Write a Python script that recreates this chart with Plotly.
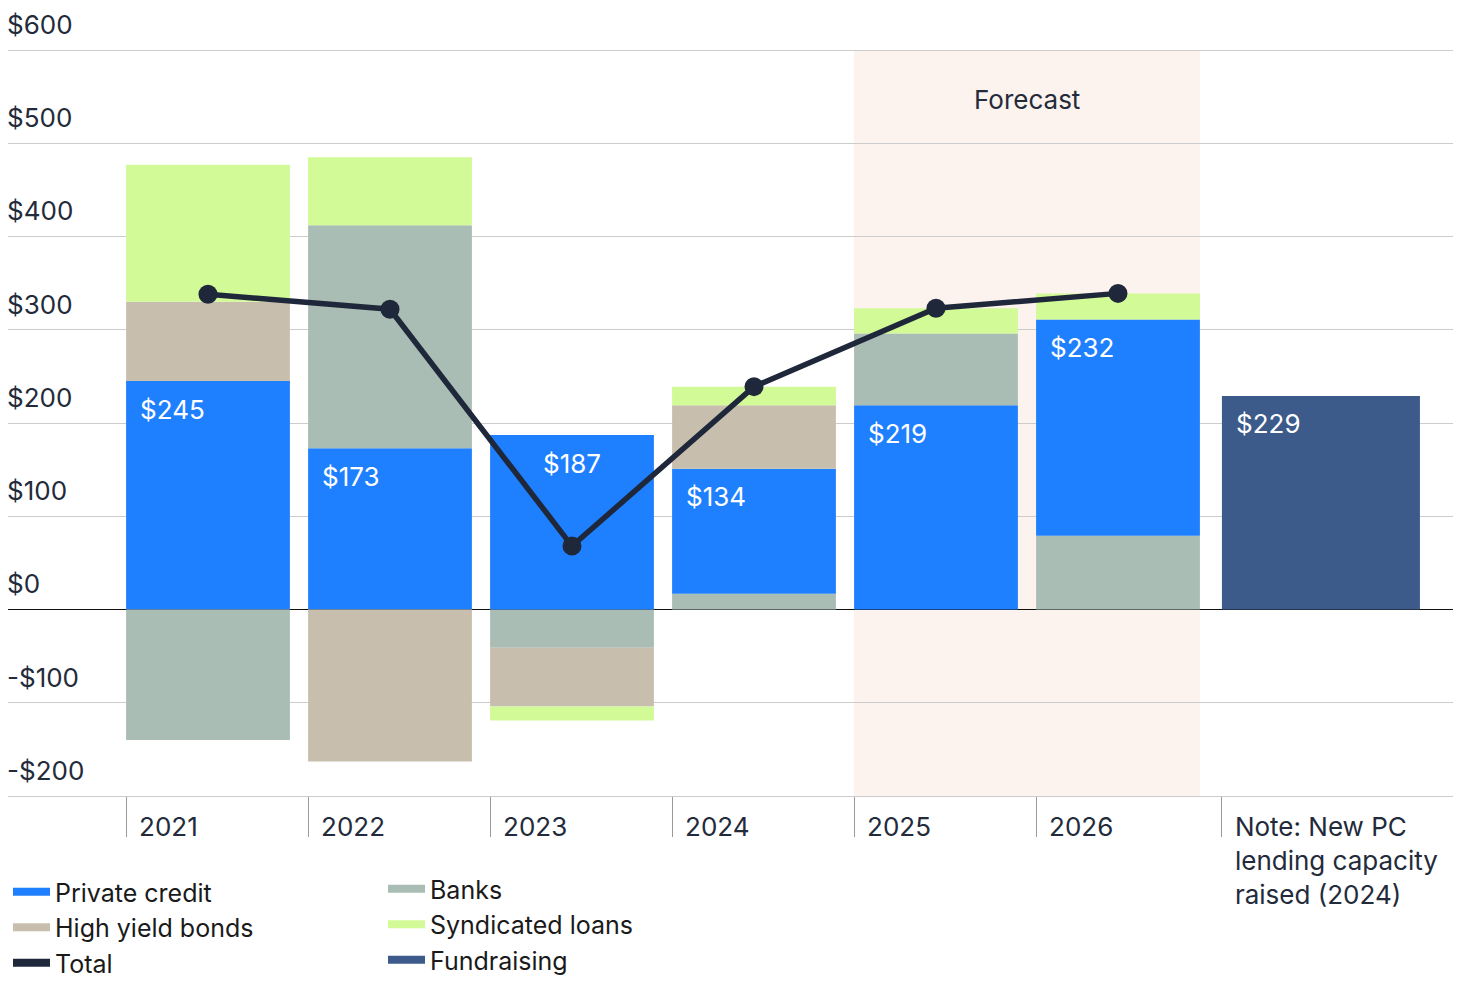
import plotly.graph_objects as go

# ---- data (USD bn) ----
years = ["2021", "2022", "2023", "2024", "2025", "2026"]
private_credit = [245, 173, 187, 134, 219, 232]
high_yield_bonds = [85, -163, -63, 68, None, None]
banks = [-140, 239, -41, 17, 77, 79]
syndicated_loans = [147, 73, -15, 20, 27, 28]
total = [338, 322, 68, 239, 323, 339]
fundraising = [229]
fundraising_label = "Note: New PC<br>lending capacity<br>raised (2024)"
forecast_years = ["2025", "2026"]
# years in which banks sit next to the zero line (below private credit)
banks_first_years = ["2023", "2024", "2026"]

y_ticks = [-200, -100, 0, 100, 200, 300, 400, 500, 600]
y_tick_text = ["-$200", "-$100", "$0", "$100", "$200", "$300", "$400", "$500", "$600"]

COLORS = {
    "Private credit": "#1F80FF",
    "High yield bonds": "#C8BEAD",
    "Banks": "#AABDB4",
    "Syndicated loans": "#D2FA97",
    "Fundraising": "#3C5A8A",
    "Total": "#1F283A",
}
FONT = "Inter"
TEXT = "#232B3B"

W, H = 1461, 991
OFF = 8  # the page body puts the figure 8px in from the top-left corner

BAR_W = 0.9
SLOT_PX = 182
FIRST_PX = 208 - OFF          # centre of the 2021 bar in figure pixels
x_years = list(range(len(years)))
x_fund = 6.115
w_fund = 1.088

# grid lines: $600 at 50px, -$200 at 796px on the page
Y600_PX = 50 - OFF
YM200_PX = 796 - OFF
PX_PER_UNIT = (YM200_PX - Y600_PX) / 800
Y_MAX = 600 + Y600_PX / PX_PER_UNIT   # plot area runs to the top of the figure


def split_banks():
    first = [v if y in banks_first_years else None for y, v in zip(years, banks)]
    rest = [None if y in banks_first_years else v for y, v in zip(years, banks)]
    return first, rest


def bar(name, values, legendgroup):
    return go.Bar(
        x=x_years, y=values, width=BAR_W, name=name,
        marker=dict(color=COLORS[legendgroup], line=dict(width=0)),
        legendgroup=legendgroup, showlegend=False, hoverinfo="y+name",
    )


def legend_entry(name, legend):
    return go.Scatter(
        x=[None], y=[None], mode="lines", name=name, legend=legend,
        line=dict(color=COLORS[name], width=8), legendgroup=name,
    )


fig = go.Figure()

banks_first, banks_rest = split_banks()
fig.add_trace(bar("Banks", banks_first, "Banks"))
fig.add_trace(bar("Private credit", private_credit, "Private credit"))
fig.add_trace(bar("High yield bonds", high_yield_bonds, "High yield bonds"))
fig.add_trace(bar("Banks", banks_rest, "Banks"))
fig.add_trace(bar("Syndicated loans", syndicated_loans, "Syndicated loans"))
fig.add_trace(go.Bar(
    x=[x_fund], y=fundraising, width=w_fund, name="Fundraising",
    marker=dict(color=COLORS["Fundraising"], line=dict(width=0)),
    showlegend=False,
))

fig.add_trace(go.Scatter(
    x=x_years, y=total, mode="lines+markers", name="Total", showlegend=False,
    line=dict(color=COLORS["Total"], width=5.5),
    marker=dict(color=COLORS["Total"], size=19),
))

# legend entries as thick line swatches, in two columns
for name in ["Private credit", "High yield bonds", "Total"]:
    fig.add_trace(legend_entry(name, "legend"))
for name in ["Banks", "Syndicated loans", "Fundraising"]:
    fig.add_trace(legend_entry(name, "legend2"))

# value labels at the top of the private credit segment
for i, y in enumerate(years):
    top = private_credit[i] + (banks[i] if y in banks_first_years and banks[i] > 0 else 0)
    centred = y == "2023"
    fig.add_annotation(
        x=i if centred else i - BAR_W / 2, y=top, xref="x", yref="y",
        text=f"${private_credit[i]}", showarrow=False,
        xanchor="center" if centred else "left", yanchor="middle",
        xshift=0 if centred else 12, yshift=-28,
        font=dict(family=FONT, size=26, color="white"),
    )
fig.add_annotation(
    x=x_fund - w_fund / 2, y=fundraising[0], xref="x", yref="y",
    text=f"${fundraising[0]}", showarrow=False, xanchor="left", yanchor="middle",
    xshift=12, yshift=-28, font=dict(family=FONT, size=26, color="white"),
)

# forecast band
f0 = years.index(forecast_years[0])
f1 = years.index(forecast_years[-1])
fig.add_shape(
    type="rect", xref="x", yref="y", x0=f0 - BAR_W / 2, x1=f1 + BAR_W / 2,
    y0=-200, y1=600, fillcolor="#FCF2EE", line=dict(width=0), layer="below",
)
fig.add_annotation(
    x=(f0 + f1) / 2, y=600, xref="x", yref="y", yshift=-49, text="Forecast",
    showarrow=False, font=dict(family=FONT, size=26, color=TEXT),
)

tick_pos = [i - BAR_W / 2 for i in x_years] + [x_fund - w_fund / 2]
fig.update_layout(
    width=W, height=H,
    margin=dict(l=0, r=0, t=0, b=H - YM200_PX, pad=0),
    barmode="relative",
    plot_bgcolor="white", paper_bgcolor="white",
    font=dict(family=FONT, size=26, color=TEXT),
    xaxis=dict(
        range=[-FIRST_PX / SLOT_PX, (W - FIRST_PX) / SLOT_PX],
        showgrid=False, zeroline=False,
        showline=True, linecolor="#CCCCCC", linewidth=1, automargin=False,
        tickmode="array", tickvals=tick_pos, ticktext=years + [fundraising_label],
        ticks="outside", ticklen=40, tickcolor="#9A9A9A", tickwidth=1,
        ticklabelposition="outside right", ticklabelshift=12, ticklabelstandoff=8,
        ticklabeloverflow="allow",
        tickfont=dict(family=FONT, size=26, color=TEXT),
    ),
    yaxis=dict(
        range=[-200, Y_MAX], tickmode="array", tickvals=y_ticks, ticktext=y_tick_text,
        showgrid=True, gridcolor="#CCCCCC", gridwidth=1, automargin=False,
        zeroline=True, zerolinecolor="#111111", zerolinewidth=1,
        ticks="", ticklabelposition="inside top", ticklabelshift=-7,
        ticklabelstandoff=-4, ticklabeloverflow="allow",
        tickfont=dict(family=FONT, size=26, color=TEXT),
    ),
    legend=dict(
        x=0, y=(YM200_PX - (893 - OFF - 24)) / YM200_PX,
        xanchor="left", yanchor="top", orientation="v",
        font=dict(family=FONT, size=25, color="#1A1A1A"), tracegroupgap=0,
        itemwidth=37, bgcolor="rgba(0,0,0,0)",
    ),
    legend2=dict(
        x=(384 - OFF - 1) / W, y=(YM200_PX - (890 - OFF - 24)) / YM200_PX,
        xanchor="left", yanchor="top", orientation="v",
        font=dict(family=FONT, size=25, color="#1A1A1A"), tracegroupgap=0,
        itemwidth=37, bgcolor="rgba(0,0,0,0)",
    ),
    hovermode="closest",
)

fig.write_html("out.html")
